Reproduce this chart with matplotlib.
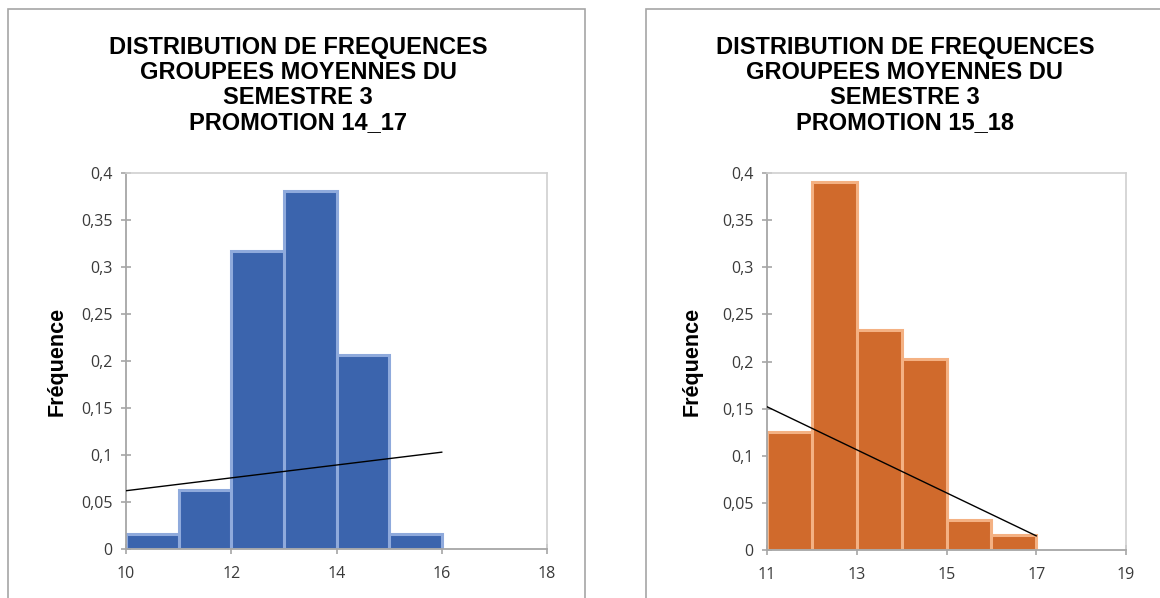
import matplotlib
matplotlib.use("Agg")
import matplotlib.pyplot as plt
from matplotlib.patches import Rectangle

# data
left_bins = [10, 11, 12, 13, 14, 15]
left_freq = [0.016, 0.063, 0.317, 0.381, 0.206, 0.016]
left_trend_x = [10, 16]
left_trend_y = [0.062, 0.103]
left_xticks = [10, 12, 14, 16, 18]

right_bins = [11, 12, 13, 14, 15, 16]
right_freq = [0.125, 0.390, 0.233, 0.203, 0.032, 0.016]
right_trend_x = [11, 17]
right_trend_y = [0.152, 0.015]
right_xticks = [11, 13, 15, 17, 19]

yticks = [0, 0.05, 0.1, 0.15, 0.2, 0.25, 0.3, 0.35, 0.4]
ytick_labels = ["0", "0,05", "0,1", "0,15", "0,2", "0,25", "0,3", "0,35", "0,4"]

titles = ["DISTRIBUTION DE FREQUENCES\nGROUPEES MOYENNES DU\nSEMESTRE 3\nPROMOTION 14_17",
          "DISTRIBUTION DE FREQUENCES\nGROUPEES MOYENNES DU\nSEMESTRE 3\nPROMOTION 15_18"]

W, H = 1160, 598
fig = plt.figure(figsize=(W / 100, H / 100), dpi=100)

# panel frames (chart areas)
for x0, x1 in [(8, 585), (646, 1175)]:
    fig.patches.append(Rectangle((x0 / W, -0.05), (x1 - x0) / W, 1.05 - 9 / H,
                                 transform=fig.transFigure, fill=False,
                                 edgecolor="#a6a6a6", linewidth=1.2))


def draw_hist(rect, bins, freq, tx, ty, xticks, face, edge, title, title_x, ylab_x):
    ax = fig.add_axes(rect)
    ax.bar(bins, freq, width=1, align="edge", color=face, edgecolor=edge,
           linewidth=2.2, zorder=2)
    ax.plot(tx, ty, color="black", linewidth=1, zorder=3)
    ax.set_xlim(xticks[0], xticks[-1])
    ax.set_ylim(0, 0.4)
    ax.set_xticks(xticks)
    ax.set_yticks(yticks)
    ax.set_yticklabels(ytick_labels)
    for s in ["left", "bottom"]:
        ax.spines[s].set_color("#a6a6a6")
        ax.spines[s].set_linewidth(1.3)
    for s in ["top", "right"]:
        ax.spines[s].set_color("#d0d0d0")
        ax.spines[s].set_linewidth(1.2)
    ax.tick_params(direction="inout", length=7, width=1.2, color="#a6a6a6",
                   labelsize=11.5, labelcolor="#3a3a3a")
    ax.tick_params(axis="y", pad=6)
    ax.tick_params(axis="x", pad=9)
    for lbl in ax.get_xticklabels() + ax.get_yticklabels():
        lbl.set_family("Open Sans")
    fig.text(ylab_x / W, 1 - 361 / H, "Fréquence", rotation=90, ha="center",
             va="center", fontsize=15.5, fontweight="bold", family="Liberation Sans")
    fig.text(title_x / W, 1 - 85 / H, title, ha="center", va="center",
             fontsize=17, fontweight="bold", family="Liberation Sans",
             linespacing=1.1)
    return ax


draw_hist([126 / W, 1 - 549 / H, 421 / W, 376 / H], left_bins, left_freq,
          left_trend_x, left_trend_y, left_xticks, "#3b64ad", "#8faadc",
          titles[0], 298, 57)
draw_hist([767 / W, 1 - 550 / H, 359 / W, 377 / H], right_bins, right_freq,
          right_trend_x, right_trend_y, right_xticks, "#d06a2c", "#f4b183",
          titles[1], 905, 692)

fig.savefig("out.png", dpi=100)
